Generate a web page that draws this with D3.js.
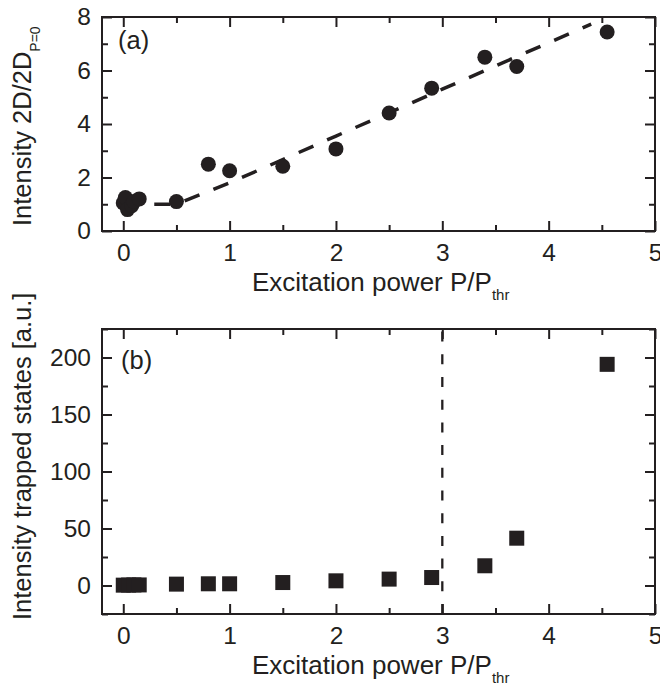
<html>
<head>
<style>
  body { margin: 0; background: #fff; }
  text { font-family: "Liberation Sans", Arial, sans-serif; fill: #231f20; }
</style>
</head>
<body>
<div id="chart"></div>
<script src="https://d3js.org/d3.v7.min.js"></script>
<script>
// panel (a): 2D intensity vs excitation power
var powerA = [0, 0.02, 0.04, 0.08, 0.1, 0.15, 0.5, 0.8, 1.0, 1.5, 2.0, 2.5, 2.9, 3.4, 3.7, 4.55];
var intensity2D = [1.05, 1.25, 0.8, 0.95, 1.1, 1.2, 1.1, 2.5, 2.25, 2.42, 3.07, 4.41, 5.34, 6.5, 6.15, 7.44];
// dashed guide through (a)
var fitX = [0, 0.5, 1.0, 1.5, 2.0, 2.5, 3.0, 3.5, 4.0, 4.4];
var fitY = [1.0, 1.0, 1.8, 2.67, 3.55, 4.42, 5.3, 6.17, 7.04, 7.73];

// panel (b): trapped states intensity
var powerB = [0, 0.05, 0.1, 0.15, 0.5, 0.8, 1.0, 1.5, 2.0, 2.5, 2.9, 3.4, 3.7, 4.55];
var intensityTrap = [0.3, 0.4, 0.5, 0.5, 1.2, 1.5, 1.5, 2.6, 4.1, 5.6, 7.0, 17.3, 41.5, 194];
var thresholdX = 3;

var xTicks = [0, 1, 2, 3, 4, 5];
var yTicksA = [0, 2, 4, 6, 8];
var yTicksB = [0, 50, 100, 150, 200];

var svg = d3.select("#chart").append("svg")
    .attr("width", 660)
    .attr("height", 690);

var left = 102, right = 655;

function panel(top, bottom, yDomain, yTicks, yMinor, xMinor) {
  var x = d3.scaleLinear().domain([-0.2, 5]).range([left, right]);
  var y = d3.scaleLinear().domain(yDomain).range([bottom, top]);
  var g = svg.append("g");

  // minor ticks (inside, all four sides)
  g.append("g").attr("transform", "translate(0," + bottom + ")")
    .call(d3.axisBottom(x).tickValues(xMinor).tickSize(-6).tickFormat(""));
  g.append("g").attr("transform", "translate(0," + top + ")")
    .call(d3.axisTop(x).tickValues(xMinor).tickSize(-6).tickFormat(""));
  g.append("g").attr("transform", "translate(" + left + ",0)")
    .call(d3.axisLeft(y).tickValues(yMinor).tickSize(-6).tickFormat(""));
  g.append("g").attr("transform", "translate(" + right + ",0)")
    .call(d3.axisRight(y).tickValues(yMinor).tickSize(-6).tickFormat(""));

  // major ticks
  var xb = g.append("g").attr("transform", "translate(0," + bottom + ")")
    .call(d3.axisBottom(x).tickValues(xTicks).tickSize(-10).tickFormat(d3.format("d")));
  xb.selectAll("text").attr("y", 13).attr("font-size", 24.5);
  g.append("g").attr("transform", "translate(0," + top + ")")
    .call(d3.axisTop(x).tickValues(xTicks).tickSize(-10).tickFormat(""));
  var yl = g.append("g").attr("transform", "translate(" + left + ",0)")
    .call(d3.axisLeft(y).tickValues(yTicks).tickSize(-10).tickFormat(d3.format("d")));
  yl.selectAll("text").attr("x", -11).attr("font-size", 24.5);
  g.append("g").attr("transform", "translate(" + right + ",0)")
    .call(d3.axisRight(y).tickValues(yTicks).tickSize(-10).tickFormat(""));

  g.selectAll(".domain").remove();
  g.selectAll(".tick line").attr("stroke", "#231f20").attr("stroke-width", 2);
  g.selectAll(".tick text").attr("fill", "#231f20").attr("font-family", "Liberation Sans, Arial, sans-serif");

  g.append("rect")
    .attr("x", left).attr("y", top)
    .attr("width", right - left).attr("height", bottom - top)
    .attr("fill", "none").attr("stroke", "#231f20").attr("stroke-width", 2);

  // x title
  var t = g.append("text").attr("x", 252).attr("y", bottom + 60).attr("font-size", 26);
  t.append("tspan").text("Excitation power P/P");
  t.append("tspan").attr("dy", 9).attr("font-size", 15).text("thr");

  return { x: x, y: y, g: g };
}

// ---------- panel (a)
var a = panel(17, 231, [0, 8], yTicksA, [1, 3, 5, 7], [0.5, 1.5, 2.5, 3.5, 4.5]);

var fitData = fitX.map(function(d, i) { return [d, fitY[i]]; });
a.g.append("path")
  .datum(fitData)
  .attr("d", d3.line().x(function(d) { return a.x(d[0]); }).y(function(d) { return a.y(d[1]); }))
  .attr("fill", "none")
  .attr("stroke", "#231f20")
  .attr("stroke-width", 3.5)
  .attr("stroke-dasharray", "16,15");

a.g.selectAll("circle")
  .data(powerA)
  .enter()
  .append("circle")
  .attr("cx", function(d) { return a.x(d); })
  .attr("cy", function(d, i) { return a.y(intensity2D[i]); })
  .attr("r", 7.5)
  .attr("fill", "#231f20");

a.g.append("text").attr("x", 118).attr("y", 49).attr("font-size", 25.5).text("(a)");

var ya = svg.append("text")
  .attr("transform", "translate(31,226) rotate(-90)")
  .attr("font-size", 25.5);
ya.append("tspan").text("Intensity 2D/2D");
ya.append("tspan").attr("dy", 9).attr("font-size", 14).text("P=0");

// ---------- panel (b)
var b = panel(329, 614, [-25, 225], yTicksB, [-25, 25, 75, 125, 175, 225], [0.5, 1.5, 2.5, 3.5, 4.5]);

b.g.append("line")
  .attr("x1", b.x(thresholdX)).attr("x2", b.x(thresholdX))
  .attr("y1", b.y(-25)).attr("y2", b.y(225))
  .attr("stroke", "#231f20")
  .attr("stroke-width", 2.3)
  .attr("stroke-dasharray", "10,12.7");

var sq = 15;
b.g.selectAll("rect.pt")
  .data(powerB)
  .enter()
  .append("rect")
  .attr("class", "pt")
  .attr("x", function(d) { return b.x(d) - sq / 2; })
  .attr("y", function(d, i) { return b.y(intensityTrap[i]) - sq / 2; })
  .attr("width", sq)
  .attr("height", sq)
  .attr("fill", "#231f20");

b.g.append("text").attr("x", 121).attr("y", 369).attr("font-size", 25.5).text("(b)");

svg.append("text")
  .attr("transform", "translate(31,620) rotate(-90)")
  .attr("font-size", 25.5)
  .text("Intensity trapped states [a.u.]");
</script>
</body>
</html>
